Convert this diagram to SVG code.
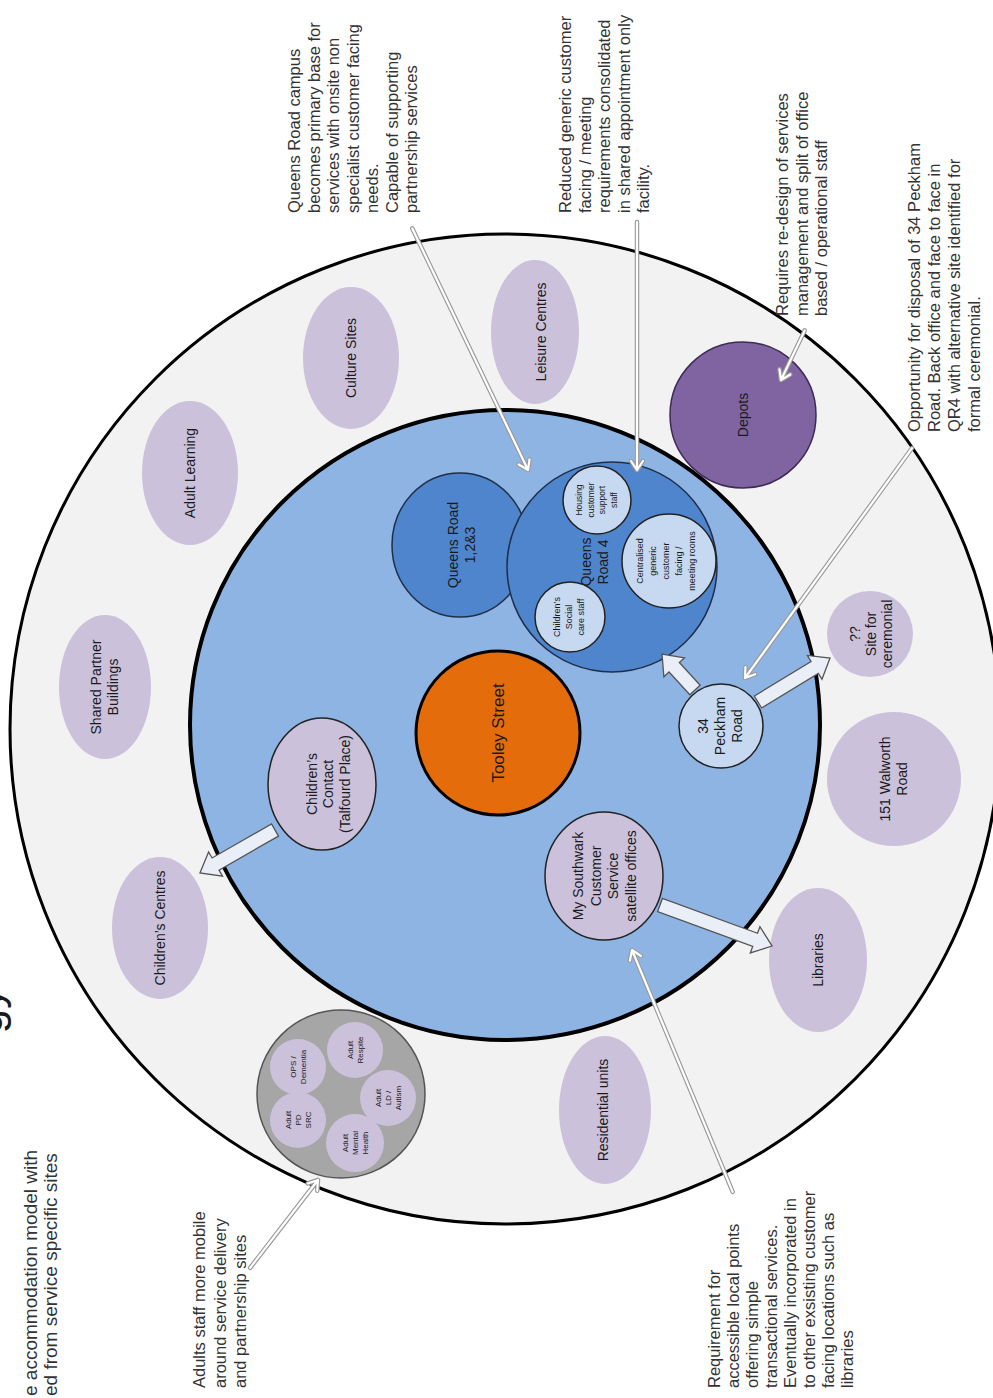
<svg xmlns="http://www.w3.org/2000/svg" width="993" height="1398" viewBox="0 0 993 1398">
<style>
text{font-family:"Liberation Sans",Arial,sans-serif;fill:#1a1a1a}
.lbl{font-size:14px;text-anchor:middle}
.sm{font-size:9px;text-anchor:middle}
.xs{font-size:8px;text-anchor:middle}
.note{font-size:16.5px;fill:#333}
.ring{fill:#ccc1da;stroke:none}
.lav{fill:#ccc1da;stroke:#222;stroke-width:1.5}
.pale{fill:#c6d9f1;stroke:#222;stroke-width:1.5}
.qr{fill:#4f85cc;stroke:#1f2f4a;stroke-width:1.5}
.barrow{fill:#e9eef7;stroke:#555;stroke-width:1.3;stroke-linejoin:miter}
.co-out{fill:none;stroke:#9a9a9a;stroke-width:4.5;stroke-linejoin:round;stroke-linecap:round}
.co-in{fill:none;stroke:#fff;stroke-width:2.2;stroke-linejoin:round;stroke-linecap:round}
</style>

<rect width="993" height="1398" fill="#fff"/>

<!-- title fragments -->
<text transform="translate(2,987) rotate(-90)" style="font-size:44px;text-anchor:end">gy</text>
<text transform="translate(37,1396) rotate(-90)" style="font-size:19px;fill:#333">e accommodation model with<tspan x="0" dy="20">ed from service specific sites</tspan></text>

<!-- outer ring and core -->
<g id="outer-ring"><circle cx="505" cy="729" r="495" fill="#f2f2f2" stroke="#000" stroke-width="3"/></g>
<g id="core"><circle cx="505" cy="725" r="315" fill="#8eb4e3" stroke="#000" stroke-width="4"/></g>

<!-- ring nodes -->
<g id="adult-learning"><ellipse class="ring" cx="190" cy="473" rx="48" ry="72"/><text class="lbl" transform="translate(190,473) rotate(-90)" dy="5">Adult Learning</text></g>
<g id="culture-sites"><ellipse class="ring" cx="351" cy="358" rx="48" ry="71"/><text class="lbl" transform="translate(351,358) rotate(-90)" dy="5">Culture Sites</text></g>
<g id="leisure-centres"><ellipse class="ring" cx="535" cy="332" rx="44" ry="72"/><text class="lbl" transform="translate(541,332) rotate(-90)" dy="5">Leisure Centres</text></g>
<g id="shared-partner"><ellipse class="ring" cx="105" cy="687" rx="46" ry="72"/><text class="lbl" transform="translate(104,687) rotate(-90)"><tspan x="0" dy="-3.5">Shared Partner</tspan><tspan x="0" dy="17">Buildings</tspan></text></g>
<g id="childrens-centres"><ellipse class="ring" cx="160" cy="928" rx="48" ry="71"/><text class="lbl" transform="translate(160,928) rotate(-90)" dy="5">Children’s Centres</text></g>
<g id="residential-units"><ellipse class="ring" cx="605" cy="1110" rx="46" ry="74"/><text class="lbl" transform="translate(603,1110) rotate(-90)" dy="5">Residential units</text></g>
<g id="libraries"><ellipse class="ring" cx="818" cy="960" rx="49" ry="72"/><text class="lbl" transform="translate(818,960) rotate(-90)" dy="5">Libraries</text></g>
<g id="walworth"><circle class="ring" cx="894" cy="779" r="67"/><text class="lbl" transform="translate(893,779) rotate(-90)"><tspan x="0" dy="-3.5">151 Walworth</tspan><tspan x="0" dy="17">Road</tspan></text></g>
<g id="ceremonial"><circle class="ring" cx="870" cy="634" r="43"/><text class="lbl" transform="translate(871,634) rotate(-90)"><tspan x="0" dy="-11">??</tspan><tspan x="0" dy="16">Site for</tspan><tspan x="0" dy="16">ceremonial</tspan></text></g>
<g id="depots"><circle cx="743" cy="415" r="73" fill="#8064a2" stroke="#3b2b55" stroke-width="1.5"/><text class="lbl" transform="translate(743,415) rotate(-90)" dy="5">Depots</text></g>

<g id="adults-group">
<circle cx="341" cy="1094" r="84" fill="#a6a6a6" stroke="#555" stroke-width="1.5"/>
<circle class="ring" cx="298" cy="1067" r="28"/><text class="xs" transform="translate(298,1067) rotate(-90)"><tspan x="0" dy="-2">OPS /</tspan><tspan x="0" dy="10">Dementia</tspan></text>
<circle class="ring" cx="355" cy="1050" r="28"/><text class="xs" transform="translate(355,1050) rotate(-90)"><tspan x="0" dy="-2">Adult</tspan><tspan x="0" dy="10">Respite</tspan></text>
<circle class="ring" cx="388" cy="1098" r="28"/><text class="xs" transform="translate(388,1098) rotate(-90)"><tspan x="0" dy="-7">Adult</tspan><tspan x="0" dy="10">LD /</tspan><tspan x="0" dy="10">Autism</tspan></text>
<circle class="ring" cx="355" cy="1143" r="29"/><text class="xs" transform="translate(355,1143) rotate(-90)"><tspan x="0" dy="-7">Adult</tspan><tspan x="0" dy="10">Mental</tspan><tspan x="0" dy="10">Health</tspan></text>
<circle class="ring" cx="298" cy="1120" r="28"/><text class="xs" transform="translate(298,1120) rotate(-90)"><tspan x="0" dy="-7">Adult</tspan><tspan x="0" dy="10">PD</tspan><tspan x="0" dy="10">SRC</tspan></text>
</g>

<!-- core nodes -->
<g id="tooley-street"><circle cx="498" cy="733" r="82" fill="#e46c0a" stroke="#000" stroke-width="3"/><text transform="translate(498,733) rotate(-90)" dy="6" style="font-size:17px;text-anchor:middle">Tooley Street</text></g>
<g id="queens-road-123"><ellipse class="qr" cx="460" cy="545" rx="68" ry="72"/><text class="lbl" transform="translate(461,545) rotate(-90)"><tspan x="0" dy="-3.5">Queens Road</tspan><tspan x="0" dy="17">1,2&amp;3</tspan></text></g>
<g id="queens-road-4">
<circle class="qr" cx="612" cy="567" r="105"/>
<text class="lbl" transform="translate(594,562) rotate(-90)"><tspan x="0" dy="-3.5">Queens</tspan><tspan x="0" dy="17">Road 4</tspan></text>
<circle class="pale" cx="570" cy="617" r="35"/><text class="sm" transform="translate(569,617) rotate(-90)"><tspan x="0" dy="-9">Children’s</tspan><tspan x="0" dy="12">Social</tspan><tspan x="0" dy="12">care staff</tspan></text>
<circle class="pale" cx="597" cy="500" r="34"/><text class="sm" transform="translate(596,500) rotate(-90)" style="font-size:8.5px"><tspan x="0" dy="-14">Housing</tspan><tspan x="0" dy="11.5">customer</tspan><tspan x="0" dy="11.5">support</tspan><tspan x="0" dy="11.5">staff</tspan></text>
<circle class="pale" cx="669" cy="561" r="47"/><text class="sm" transform="translate(666,561) rotate(-90)"><tspan x="0" dy="-23">Centralised</tspan><tspan x="0" dy="13">generic</tspan><tspan x="0" dy="13">customer</tspan><tspan x="0" dy="13">facing /</tspan><tspan x="0" dy="13">meeting rooms</tspan></text>
</g>
<g id="peckham-road"><circle class="pale" cx="721" cy="726" r="42"/><text class="lbl" transform="translate(720,726) rotate(-90)"><tspan x="0" dy="-12">34</tspan><tspan x="0" dy="17">Peckham</tspan><tspan x="0" dy="17">Road</tspan></text></g>
<g id="childrens-contact"><ellipse class="lav" cx="322" cy="784" rx="54" ry="66"/><text class="lbl" transform="translate(328,784) rotate(-90)"><tspan x="0" dy="-11.5">Children’s</tspan><tspan x="0" dy="16.5">Contact</tspan><tspan x="0" dy="16.5">(Talfourd Place)</tspan></text></g>
<g id="my-southwark"><ellipse class="lav" cx="604" cy="876" rx="59" ry="64"/><text class="lbl" transform="translate(604,876) rotate(-90)"><tspan x="0" dy="-21">My Southwark</tspan><tspan x="0" dy="17.5">Customer</tspan><tspan x="0" dy="17.5">Service</tspan><tspan x="0" dy="17.5">satellite offices</tspan></text></g>

<!-- connectors -->
<g id="connectors">
<path class="barrow" transform="translate(275,830) rotate(150.2)" d="M0,-7 H68.5 V-14 L86.5,0 L68.5,14 V7 H0 Z"/>
<path class="barrow" transform="translate(695,690) rotate(-132.5)" d="M0,-7 H30.8 V-14 L48.8,0 L30.8,14 V7 H0 Z"/>
<path class="barrow" transform="translate(758,702) rotate(-31.4)" d="M0,-7 H66.4 V-14 L84.4,0 L66.4,14 V7 H0 Z"/>
<path class="barrow" transform="translate(660,905) rotate(20.1)" d="M0,-7 H101.3 V-14 L119.3,0 L101.3,14 V7 H0 Z"/>

<g transform="translate(528,470) rotate(64.4)"><path class="co-out" d="M-268,0 H0 M-9,-6 L0,0 L-9,6"/><path class="co-in" d="M-268,0 H0 M-9,-6 L0,0 L-9,6"/></g>
<g transform="translate(637,470) rotate(90)"><path class="co-out" d="M-248,0 H0 M-9,-6 L0,0 L-9,6"/><path class="co-in" d="M-248,0 H0 M-9,-6 L0,0 L-9,6"/></g>
<g transform="translate(781,380) rotate(115.6)"><path class="co-out" d="M-55,0 H0 M-9,-6 L0,0 L-9,6"/><path class="co-in" d="M-55,0 H0 M-9,-6 L0,0 L-9,6"/></g>
<g transform="translate(745,678) rotate(126)"><path class="co-out" d="M-284,0 H0 M-9,-6 L0,0 L-9,6"/><path class="co-in" d="M-284,0 H0 M-9,-6 L0,0 L-9,6"/></g>
<g transform="translate(632,950) rotate(-112.6)"><path class="co-out" d="M-262,0 H0 M-9,-6 L0,0 L-9,6"/><path class="co-in" d="M-262,0 H0 M-9,-6 L0,0 L-9,6"/></g>
<g transform="translate(318,1180) rotate(-52.3)"><path class="co-out" d="M-111,0 H0 M-9,-6 L0,0 L-9,6"/><path class="co-in" d="M-111,0 H0 M-9,-6 L0,0 L-9,6"/></g>
</g>

<!-- annotations -->
<text class="note" transform="translate(300,213) rotate(-90)">Queens Road campus<tspan x="0" dy="19.5">becomes primary base for</tspan><tspan x="0" dy="19.5">services with onsite non</tspan><tspan x="0" dy="19.5">specialist customer facing</tspan><tspan x="0" dy="19.5">needs.</tspan><tspan x="0" dy="19.5">Capable of supporting</tspan><tspan x="0" dy="19.5">partnership services</tspan></text>
<text class="note" transform="translate(571,213) rotate(-90)">Reduced generic customer<tspan x="0" dy="19.5">facing / meeting</tspan><tspan x="0" dy="19.5">requirements consolidated</tspan><tspan x="0" dy="19.5">in shared appointment only</tspan><tspan x="0" dy="19.5">facility.</tspan></text>
<text class="note" transform="translate(788,316) rotate(-90)">Requires re-design of services<tspan x="0" dy="19.5">management and split of office</tspan><tspan x="0" dy="19.5">based / operational staff</tspan></text>
<text class="note" transform="translate(920,432) rotate(-90)">Opportunity for disposal of 34 Peckham<tspan x="0" dy="20">Road. Back office and face to face in</tspan><tspan x="0" dy="20">QR4 with alternative site identified for</tspan><tspan x="0" dy="20">formal ceremonial.</tspan></text>
<text class="note" transform="translate(720,1388) rotate(-90)">Requirement for<tspan x="0" dy="19">accessible local points</tspan><tspan x="0" dy="19">offering simple</tspan><tspan x="0" dy="19">transactional services.</tspan><tspan x="0" dy="19">Eventually incorporated in</tspan><tspan x="0" dy="19">to other exsisting customer</tspan><tspan x="0" dy="19">facing locations such as</tspan><tspan x="0" dy="19">libraries</tspan></text>
<text class="note" transform="translate(205,1388) rotate(-90)">Adults staff more mobile<tspan x="0" dy="20.5">around service delivery</tspan><tspan x="0" dy="20.5">and partnership sites</tspan></text>
</svg>
